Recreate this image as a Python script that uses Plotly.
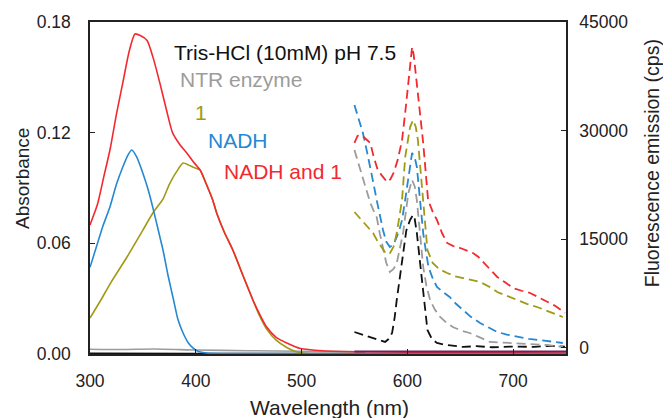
import plotly.graph_objects as go

# ---------------- data ----------------
# Absorbance (left axis), solid lines
abs_red_wl = [300, 307, 313, 319, 325, 331, 337, 342.5, 348, 354, 360, 366, 372, 378, 385, 391.5, 398, 404, 410, 416, 420, 427, 435, 445, 454, 460, 467, 476, 486, 499, 520, 560, 650, 750]
abs_red = [0.070, 0.081, 0.096, 0.111, 0.130, 0.147, 0.164, 0.1735, 0.1725, 0.170, 0.160, 0.147, 0.133, 0.120, 0.1135, 0.109, 0.104, 0.0998, 0.092, 0.0835, 0.0760, 0.066, 0.0564, 0.042, 0.0293, 0.022, 0.0146, 0.009, 0.006, 0.003, 0.0018, 0.0012, 0.0008, 0.0005]

abs_olive_wl = [300, 310, 320, 335, 350, 360, 369, 375, 382, 388, 393, 397, 404, 410, 416, 420, 427, 435, 445, 454, 460, 467, 476, 486, 495, 505, 550, 750]
abs_olive = [0.0195, 0.029, 0.039, 0.0526, 0.0672, 0.077, 0.0840, 0.092, 0.099, 0.1035, 0.1025, 0.1014, 0.0998, 0.092, 0.0835, 0.076, 0.066, 0.0564, 0.042, 0.0293, 0.021, 0.0135, 0.0075, 0.0035, 0.0012, 0.0003, 0.0, 0.0]

abs_blue_wl = [300, 306, 312, 319, 325, 331, 336, 339.5, 344, 350, 355, 360, 365, 369, 374, 379, 383, 388, 393, 397, 402, 410, 450, 750]
abs_blue = [0.047, 0.058, 0.069, 0.080, 0.092, 0.1014, 0.108, 0.1106, 0.107, 0.098, 0.089, 0.078, 0.066, 0.0564, 0.042, 0.0293, 0.019, 0.0114, 0.006, 0.0035, 0.0015, 0.0005, 0.0002, 0.0]

abs_gray_wl = [300, 330, 360, 400, 450, 500, 560]
abs_gray = [0.0026, 0.0024, 0.0027, 0.0022, 0.0018, 0.0015, 0.0012]
abs_black_wl = [300, 400, 500, 560]
abs_black = [0.0004, 0.0003, 0.0003, 0.0002]

# Fluorescence emission (right axis), dashed lines
fl_red_wl = [550, 553, 556.5, 560, 565, 568, 572, 576, 581, 584, 587, 591, 595, 598, 601, 603, 604.5, 606, 609, 612, 615, 619.6, 624, 628, 633, 637.6, 643, 650, 656, 662, 667, 671.6, 678, 685, 692, 700, 708, 716, 724, 732, 740, 749]
fl_red = [28300, 29300, 29400, 29000, 28300, 26500, 24570, 23800, 22900, 23300, 24160, 26000, 28700, 32500, 36580, 40000, 41550, 40500, 36580, 32500, 28300, 20430, 18800, 17670, 15800, 14500, 14100, 13800, 13500, 13110, 12600, 11870, 10900, 9800, 9100, 8280, 7900, 7590, 7000, 6350, 5800, 4830]

fl_olive_wl = [550, 554, 558, 563, 567.6, 572, 577, 580, 583.5, 587, 590, 593, 595, 598, 602.6, 605.4, 608, 610, 612.5, 615, 619, 624, 630, 637.6, 645, 652.7, 660, 668.8, 677, 685, 694, 704, 713, 722.7, 735, 747]
fl_olive = [18770, 18100, 17400, 16600, 15870, 14700, 13530, 13000, 13100, 14000, 15870, 18500, 20430, 26370, 30500, 31470, 30500, 28710, 24500, 20430, 13530, 11730, 10900, 10350, 9900, 9660, 9400, 9110, 8500, 7730, 7200, 6630, 6100, 5660, 5000, 4280]

fl_blue_wl = [550, 554, 558, 562, 565, 568, 571, 574, 577, 580, 583.5, 587, 590, 593, 595, 597.5, 599.7, 602, 604.5, 607, 609, 612, 615, 617.5, 620, 624, 628, 634, 640, 646, 652.7, 660, 668.8, 677, 685, 694, 704, 715, 725, 736, 747]
fl_blue = [33540, 31500, 29680, 27000, 24990, 22700, 20430, 18200, 16290, 14700, 13940, 14300, 15320, 16600, 17670, 20000, 22230, 24800, 26920, 26300, 24990, 20430, 15870, 13400, 11180, 9600, 8420, 7700, 7040, 6100, 5250, 4300, 3450, 2800, 2210, 1850, 1520, 1250, 1100, 900, 690]

fl_gray_wl = [550, 554, 558, 562, 565, 568, 571, 574, 577, 580, 583.5, 587, 590, 593, 596, 598.5, 601, 604.5, 607, 609, 612, 615, 618, 621.5, 626, 631, 637, 643, 651, 659, 668, 678, 689, 700, 716, 732, 747]
fl_gray = [27330, 25400, 23610, 21600, 20020, 19000, 18080, 15800, 13530, 11800, 10490, 10900, 11730, 13700, 15870, 18700, 21400, 23190, 22300, 20430, 15870, 11180, 8600, 6630, 5300, 4280, 3500, 2900, 2400, 2070, 1500, 830, 760, 690, 550, 410, 140]

fl_black_wl = [550, 554, 558, 563, 567.6, 573, 579, 582, 585.6, 588, 590, 593, 596, 599, 602.6, 605.4, 607, 609, 611.5, 614, 616.5, 619, 623, 628, 635, 643, 652.7, 665, 680, 700, 720, 735, 749]
fl_black = [2210, 2000, 1790, 1550, 1380, 1100, 830, 1200, 2070, 4200, 6630, 10000, 13530, 16200, 17670, 18360, 17800, 15870, 12500, 8970, 5400, 2480, 1300, 690, 450, 300, 140, 250, 100, 200, 150, 300, 200]

fl_purple_wl = [550, 650, 750]
fl_purple = [-480, -480, -480]

x_ticks = [300, 400, 500, 600, 700]
y_left_ticks = [0.00, 0.06, 0.12, 0.18]
y_left_labels = ["0.00", "0.06", "0.12", "0.18"]
y_right_ticks = [0, 15000, 30000, 45000]
y_right_labels = ["0", "15000", "30000", "45000"]

labels = ["Tris-HCl (10mM) pH 7.5", "NTR enzyme", "1", "NADH", "NADH and 1"]
label_x = [377.5, 383.2, 397.4, 409.7, 424.8]
label_y = [0.1637, 0.1486, 0.1312, 0.1155, 0.0987]

RED = "#F2292F"
BLUE = "#2588D2"
OLIVE = "#A09A14"
GRAY = "#9C9C9C"
BLACK = "#111111"
PURPLE = "#6E1F5E"
label_colors = [BLACK, GRAY, OLIVE, BLUE, RED]

FONT = "Liberation Sans, Arial, sans-serif"
TXT = "#222222"

fig = go.Figure()

# absorbance traces
for wl, v, c in [(abs_gray_wl, abs_gray, GRAY), (abs_black_wl, abs_black, BLACK),
                 (abs_olive_wl, abs_olive, OLIVE), (abs_red_wl, abs_red, RED),
                 (abs_blue_wl, abs_blue, BLUE)]:
    fig.add_trace(go.Scatter(x=wl, y=v, mode="lines", line=dict(color=c, width=1.6, shape="spline", smoothing=0.6),
                             showlegend=False, yaxis="y"))

# fluorescence traces
fig.add_trace(go.Scatter(x=fl_purple_wl, y=fl_purple, mode="lines", line=dict(color=PURPLE, width=2),
                         showlegend=False, yaxis="y2"))
for wl, v, c in [(fl_black_wl, fl_black, BLACK), (fl_gray_wl, fl_gray, GRAY),
                 (fl_blue_wl, fl_blue, BLUE), (fl_olive_wl, fl_olive, OLIVE),
                 (fl_red_wl, fl_red, RED)]:
    fig.add_trace(go.Scatter(x=wl, y=v, mode="lines", line=dict(color=c, width=1.8, dash="9px,5px"),
                             showlegend=False, yaxis="y2"))

for t, xx, yy, c in zip(labels, label_x, label_y, label_colors):
    fig.add_annotation(x=xx, y=yy, xref="x", yref="y", text=t, showarrow=False,
                       xanchor="left", yanchor="middle", font=dict(family=FONT, size=21, color=c))

# axis titles as paper annotations (exact placement)
fig.add_annotation(x=-0.143, y=0.53, xref="paper", yref="paper", text="Absorbance", textangle=-90,
                   showarrow=False, xanchor="center", yanchor="middle", font=dict(family=FONT, size=19, color=TXT))
fig.add_annotation(x=1.181, y=0.575, xref="paper", yref="paper", text="Fluorescence emission (cps)", textangle=-90,
                   showarrow=False, xanchor="center", yanchor="middle", font=dict(family=FONT, size=19.5, color=TXT))
fig.add_annotation(x=0.504, y=-0.162, xref="paper", yref="paper", text="Wavelength (nm)",
                   showarrow=False, xanchor="center", yanchor="middle", font=dict(family=FONT, size=21, color=TXT))

axis_common = dict(showline=True, linecolor=TXT, linewidth=1.5, ticks="inside", ticklen=5,
                   tickwidth=1.3, tickcolor=TXT, showgrid=False, zeroline=False, automargin=False,
                   tickfont=dict(family=FONT, size=17.5, color=TXT))

fig.update_layout(
    width=663, height=418,
    margin=dict(l=90, r=97, t=22, b=64, autoexpand=False),
    paper_bgcolor="white", plot_bgcolor="white",
    xaxis=dict(range=[300, 750], tickvals=x_ticks, mirror=True, ticklabelstandoff=10, **axis_common),
    yaxis=dict(range=[0, 0.18], tickvals=y_left_ticks, ticktext=y_left_labels, ticklabelstandoff=14, **axis_common),
    yaxis2=dict(range=[-830, 45000], tickvals=y_right_ticks, ticktext=y_right_labels, overlaying="y", side="right",
                ticklabelstandoff=8, **axis_common),
)

fig.write_html("out.html", config={"displayModeBar": False},
               post_script="document.body.style.margin='0';document.body.style.padding='0';document.body.style.overflow='hidden';")
